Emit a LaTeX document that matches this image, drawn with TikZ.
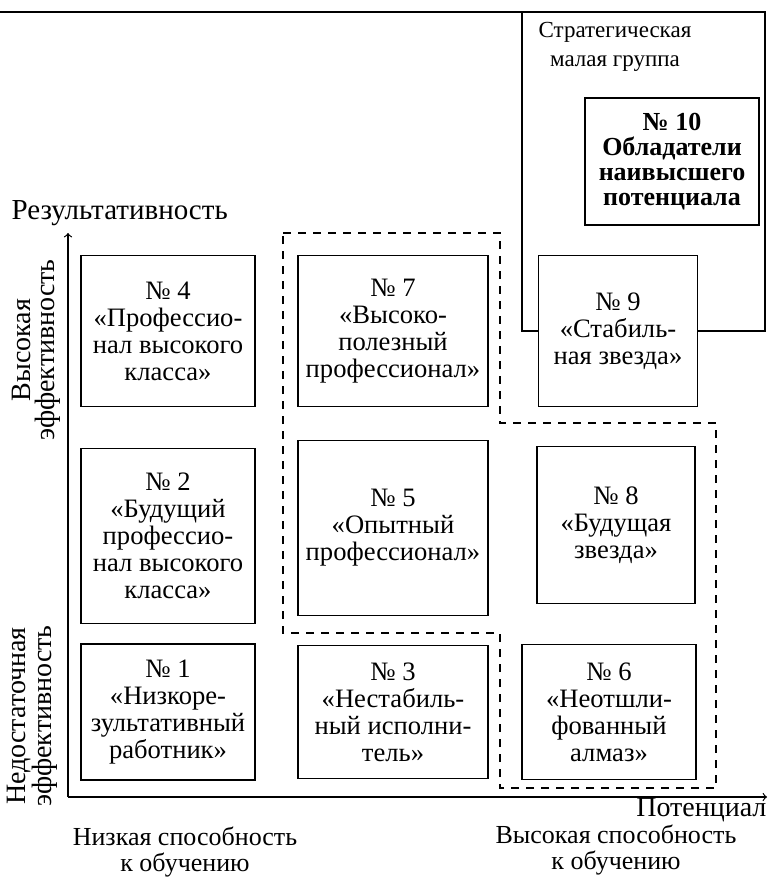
\documentclass[tikz,border=0pt]{standalone}
\usepackage{fontspec}
\setmainfont{Liberation Serif}
\begin{document}
\begin{tikzpicture}[x=0.5pt, y=-0.5pt, node distance=112.5pt, line width=0.6pt]
    \tikzstyle{cell} = [rectangle, draw, fill=white, align=center, inner sep=0pt, font=\fontsize{13.3}{13.5}\selectfont]
    \tikzstyle{best} = [cell, font=\fontsize{13}{12.5}\selectfont\bfseries]
    \tikzstyle{group} = [dash pattern=on 4pt off 3.5pt]
    \tikzstyle{caption} = [align=center, inner sep=0pt, font=\fontsize{13}{13}\selectfont]

    \useasboundingbox (0,0) rectangle (768,882);

    % Strategic small group (solid frame, top right)
    \draw (0,12) -- (765,12) -- (765,331) -- (522,331) -- (522,12);
    \node[caption, font=\fontsize{11.5}{14.5}\selectfont] (sg) at (615,47) {Стратегическая\\малая группа};

    % Dashed group around 7, 5, 8, 6
    \draw[group] (283,233) -- (500,233) -- (500,423) -- (716,423) -- (716,788)
        -- (500,788) -- (500,633) -- (283,633) -- cycle;

    % Top row
    \node[cell, minimum width=87pt, minimum height=75.5pt] (n4) at (168,331) {№ 4\\«Профессио-\\нал высокого\\класса»};
    \node[cell, minimum width=95pt, minimum height=75.5pt] (n7) [right of=n4] {№ 7\\«Высоко-\\полезный\\профессионал»};
    \node[cell, minimum width=79.5pt, minimum height=75.5pt] (n9) [right of=n7] {№ 9\\«Стабиль-\\ная звезда»};

    % Middle row
    \node[cell, minimum width=87pt, minimum height=87.5pt] (n2) [below of=n4, yshift=10pt] {№ 2\\«Будущий\\профессио-\\нал высокого\\класса»};
    \node[cell, minimum width=95pt, minimum height=87.5pt] (n5) [right of=n2, yshift=4pt] {№ 5\\«Опытный\\профессионал»};
    \node[cell, minimum width=79pt, minimum height=78.5pt] (n8) [right of=n5, xshift=-1pt, yshift=1.5pt] {№ 8\\«Будущая\\звезда»};

    % Bottom row
    \node[cell, minimum width=87pt, minimum height=68pt] (n1) [below of=n2, yshift=24.5pt] {№ 1\\«Низкоре-\\зультативный\\работник»};
    \node[cell, minimum width=95pt, minimum height=66.5pt] (n3) [right of=n1] {№ 3\\«Нестабиль-\\ный исполни-\\тель»};
    \node[cell, minimum width=87pt, minimum height=67.5pt] (n6) [right of=n3, xshift=-4.5pt] {№ 6\\«Неотшли-\\фованный\\алмаз»};

    % Highest potential
    \node[best, minimum width=87pt, minimum height=63.5pt] (n10) [above of=n9, xshift=27pt, yshift=-27.75pt] {№ 10\\Обладатели\\наивысшего\\потенциала};

    % Axes
    \coordinate (o) at (68,797);
    \coordinate (ytop) at (68,233);
    \coordinate (xend) at (767,797);
    \draw[->] (o) -- (ytop);
    \draw[->] (o) -- (xend);
    \node[caption, anchor=west, font=\fontsize{14.5}{14}\selectfont] (yl) at (11,213) {Результативность};
    \node[caption, anchor=east, font=\fontsize{14}{14}\selectfont] (xl) at (767,810) {Потенциал};

    \node[caption, rotate=90, font=\fontsize{14}{12}\selectfont] (hi) at (36,350) {Высокая\\эффективность};
    \node[caption, rotate=90, font=\fontsize{14}{13}\selectfont] (lo) at (32,716) {Недостаточная\\эффективность};
    \node[caption] (low) at (185,852) {Низкая способность\\к обучению};
    \node[caption] (high) at (616,850) {Высокая способность\\к обучению};
\end{tikzpicture}
\end{document}
